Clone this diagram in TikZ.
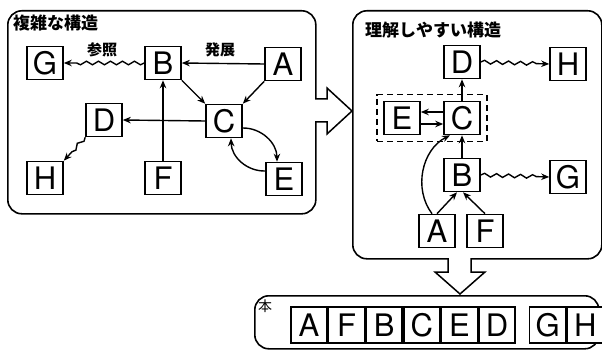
\documentclass[tikz,border=0pt]{standalone}
\usepackage{fontspec}
\setsansfont{TeX Gyre Heros}
\newfontfamily\jpfont{Noto Sans CJK JP}
\usetikzlibrary{arrows.meta,positioning,fit,decorations.pathmorphing}
\tikzset{
  box/.style={
    draw,
    line width=1.6pt,
    minimum width=36pt,
    minimum height=33pt,
    inner sep=0pt,
    fill=white,
    font=\fontsize{31}{31}\selectfont\sffamily
  },
  cell/.style={box,minimum height=36pt},
  panel/.style={draw,line width=1.6pt,rounded corners=14pt,anchor=north west},
  title/.style={font=\fontsize{17}{17}\selectfont\jpfont\bfseries,anchor=west,inner sep=0pt},
  note/.style={font=\fontsize{15}{15}\selectfont\jpfont\bfseries,inner sep=0pt},
  flow/.style={-{Stealth[length=8pt,width=6.5pt]},line width=1.4pt},
  wavy/.style={flow,decorate,decoration={snake,amplitude=1.8pt,segment length=12pt,post length=7pt}},
  group/.style={draw,dash pattern=on 6pt off 4pt,line width=1.5pt,inner sep=6pt},
  hollow/.style={draw,line width=1.5pt,fill=white,line join=miter}
}

\begin{document}
\begin{tikzpicture}[x=1pt,y=-1pt]
  \useasboundingbox (0,0) rectangle (602,350);

  % Panels.
  \node[panel,minimum width=308pt,minimum height=203pt] (cplx) at (7,10) {};
  \node[panel,minimum width=249pt,minimum height=248pt] (easy) at (352,10) {};
  \node[panel,minimum width=344pt,minimum height=53pt] (book) at (254,295) {};
  \node[title] (cplxtitle) at (13,23) {複雑な構造};
  \node[title] (easytitle) at (365,30) {理解しやすい構造};

  % Complex structure.
  \node[box] (lG) at (45,63) {G};
  \node[box] (lB) at (163,63) {B};
  \node[box] (lA) at (283,64) {A};
  \node[box] (lD) at (104,120) {D};
  \node[box] (lC) at (224,121) {C};
  \node[box] (lH) at (45,178) {H};
  \node[box] (lF) at (163,178) {F};
  \node[box] (lE) at (284,179) {E};
  \node[note] (refer) at (102,50) {参照};
  \node[note] (grow) at (220,50) {発展};
  \draw[wavy] (lB.west) -- (lG.east);
  \draw[flow] (lA.west) -- (lB.east);
  \draw[flow] (lB.south east) -- (lC.north west);
  \draw[flow] (lA.south west) -- (lC.north east);
  \draw[flow] (lC.west) -- (lD.east);
  \draw[flow] (lF.north) -- (lB.south);
  \draw[wavy] (lD.south west) -- (lH.north east);
  \draw[flow] ([yshift=-7pt]lC.east) to[bend left=45] ([xshift=-7pt]lE.north);
  \draw[flow] ([yshift=8pt]lE.west) to[bend left=45] ([xshift=7pt]lC.south);

  % Easy structure.
  \node[box] (rD) at (462,62) {D};
  \node[box] (rH) at (568,64) {H};
  \node[box] (rE) at (402,118) {E};
  \node[box] (rC) at (462,118) {C};
  \node[box] (rB) at (462,175) {B};
  \node[box] (rG) at (568,177) {G};
  \node[box] (rA) at (437,231) {A};
  \node[box] (rF) at (485,231) {F};
  \node[group,fit=(rE)(rC)] (pair) {};
  \draw[wavy] (rD.east) -- (rH.west);
  \draw[flow] (rC.north) -- (rD.south);
  \draw[flow] ([yshift=6pt]rC.west) -- ([yshift=6pt]rE.east);
  \draw[flow] ([yshift=-6pt]rE.east) -- ([yshift=-6pt]rC.west);
  \draw[flow] (rB.north) -- (rC.south);
  \draw[wavy] (rB.east) -- (rG.west);
  \draw[flow] (rA.north) -- ([xshift=-5pt]rB.south);
  \draw[flow] (rF.north) -- ([xshift=1pt]rB.south);
  \draw[flow] ([xshift=-5pt]rA.north) to[bend left=50] ([xshift=-12pt]rC.south);

  % Book order.
  \node[note,font=\fontsize{14}{14}\selectfont\jpfont] (hon) at (265,306) {本};
  \node[cell] (bA) at (309,325) {A};
  \node[cell,right=0pt of bA] (bF) {F};
  \node[cell,right=0pt of bF] (bB) {B};
  \node[cell,right=0pt of bB] (bC) {C};
  \node[cell,right=0pt of bC] (bE) {E};
  \node[cell,right=0pt of bE] (bD) {D};
  \node[cell,right=13pt of bD] (bG) {G};
  \node[cell,right=0pt of bG] (bH) {H};

  % Hollow arrows between panels.
  \draw[hollow] (315,99) -- (327,99) -- (327,88) -- (352,111) -- (327,134) -- (327,122) -- (315,122);
  \draw[hollow] (448,258) -- (448,272) -- (435,272) -- (460,294) -- (485,272) -- (471,272) -- (471,258);
\end{tikzpicture}
\end{document}
